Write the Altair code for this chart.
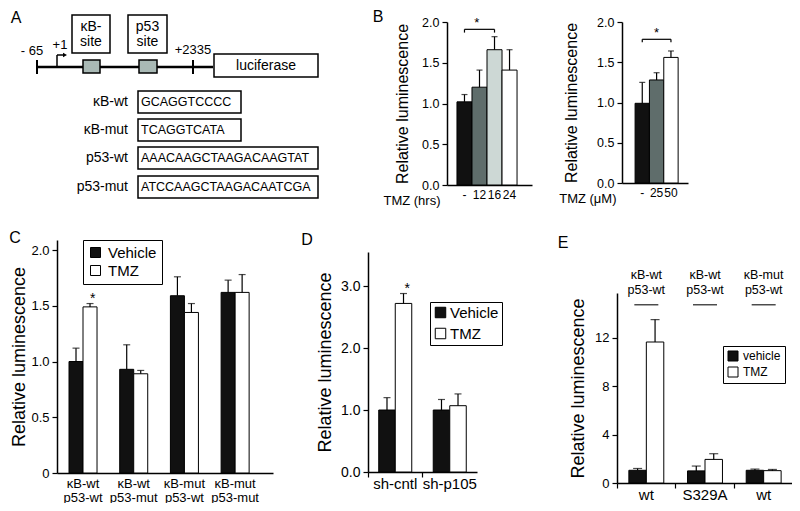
import altair as alt
import pandas as pd

M = 8            # page margin
W, H = 784, 495  # drawing area
FONT = "Liberation Sans"


def px(v):
    return v - M


# ------------------------------------------------------------------ data
# Panel B (left): TMZ time course
b1_labels = ["-", "12", "16", "24"]
b1_values = [1.02, 1.20, 1.66, 1.41]
b1_upper = [1.11, 1.41, 1.82, 1.66]
b1_fills = ["#111111", "#5f6d6b", "#cdd8d5", "#ffffff"]
b1_bracket = ("-", "16", 1.91, 1.87)

# Panel B (right): TMZ dose
b2_labels = ["-", "25", "50"]
b2_values = [0.99, 1.28, 1.56]
b2_upper = [1.25, 1.37, 1.64]
b2_fills = ["#111111", "#5f6d6b", "#ffffff"]
b2_bracket = ("-", "50", 1.785, 1.75)

# Panel C
series_cd = ["Vehicle", "TMZ"]
c_groups = ["κB-wt|p53-wt", "κB-wt|p53-mut", "κB-mut|p53-wt", "κB-mut|p53-mut"]
c_vehicle = [1.00, 0.93, 1.59, 1.62]
c_vehicle_up = [1.12, 1.15, 1.76, 1.73]
c_tmz = [1.49, 0.89, 1.44, 1.62]
c_tmz_up = [1.52, 0.92, 1.52, 1.78]
c_star = ("κB-wt|p53-wt", "TMZ", 1.52)

# Panel D
d_groups = ["sh-cntl", "sh-p105"]
d_vehicle = [1.00, 1.00]
d_vehicle_up = [1.20, 1.17]
d_tmz = [2.72, 1.07]
d_tmz_up = [2.88, 1.26]
d_star = ("sh-cntl", "TMZ", 2.88)

# Panel E
series_e = ["vehicle", "TMZ"]
e_groups = ["wt#1", "S329A#2", "wt#3"]
e_top_line1 = ["κB-wt", "κB-wt", "κB-mut"]
e_top_line2 = ["p53-wt", "p53-wt", "p53-wt"]
e_vehicle = [1.05, 1.00, 1.05]
e_vehicle_up = [1.20, 1.40, 1.15]
e_tmz = [11.65, 1.95, 1.02]
e_tmz_up = [13.50, 2.42, 1.12]

# Panel A (schematic, in diagram units)
seq_names = ["κB-wt", "κB-mut", "p53-wt", "p53-mut"]
seq_texts = ["GCAGGTCCCC", "TCAGGTCATA", "AAACAAGCTAAGACAAGTAT", "ATCCAAGCTAAGACAATCGA"]
seq_rows = [102, 130, 158, 187]
seq_box_right = [241, 241, 318, 318]
site_line1 = ["κB-", "p53"]
site_line2 = ["site", "site"]
site_left = [72, 128]
site_right = [110, 167]
site_core_left = [83, 139]
site_core_right = [100, 157]
coord_labels = ["- 65", "+1", "+2335"]
coord_x = [32, 60, 193]

layers = []

# ------------------------------------------------------------------ Panel A
dx = alt.Scale(domain=[0, 320], range=[px(0), px(320)], nice=False, zero=False)
dy = alt.Scale(domain=[0, 200], range=[px(0), px(200)], nice=False, zero=False)


def dX(f):
    return alt.X(f, scale=dx, axis=None)


def dY(f):
    return alt.Y(f, scale=dy, axis=None)


seg = pd.DataFrame({
    "x": [37, 37, 193, 57, 57],
    "x2": [213, 37, 193, 57, 63],
    "y": [67, 60, 60, 67, 55],
    "y2": [67, 74, 74, 55, 55],
    "w": [2.5, 2, 2, 1.5, 1.5],
})
layers.append(alt.Chart(seg).mark_rule(color="black").encode(
    x=dX("x:Q"), x2="x2:Q", y=dY("y:Q"), y2="y2:Q",
    strokeWidth=alt.StrokeWidth("w:Q", scale=None)))
layers.append(alt.Chart(pd.DataFrame({"x": [65], "y": [55]})).mark_point(
    shape="triangle-right", size=22, filled=True, color="black", opacity=1).encode(
    x=dX("x:Q"), y=dY("y:Q")))

boxes = pd.DataFrame({
    "x": site_left + site_core_left + [214] + [138] * 4,
    "x2": site_right + site_core_right + [318] + seq_box_right,
    "y": [15, 15, 60, 60, 54] + [r - 11 for r in seq_rows],
    "y2": [53, 53, 73, 73, 77] + [r + 11 for r in seq_rows],
    "fill": ["#ffffff", "#ffffff", "#a9b9b5", "#a9b9b5", "#ffffff"] + ["#ffffff"] * 4,
})
layers.append(alt.Chart(boxes).mark_rect(stroke="black", strokeWidth=1.5).encode(
    x=dX("x:Q"), x2="x2:Q", y=dY("y:Q"), y2="y2:Q", fill=alt.Fill("fill:N", scale=None)))

site_mid = [(a + b) / 2 for a, b in zip(site_left, site_right)]
site_txt = pd.DataFrame({"x": site_mid * 2, "y": [27, 27, 42, 42], "t": site_line1 + site_line2})
layers.append(alt.Chart(site_txt).mark_text(font=FONT, fontSize=14, baseline="middle", color="black").encode(
    x=dX("x:Q"), y=dY("y:Q"), text="t:N"))
coord_txt = pd.DataFrame({"x": coord_x, "y": [51, 45, 50], "t": coord_labels})
layers.append(alt.Chart(coord_txt).mark_text(font=FONT, fontSize=13, baseline="middle", color="black").encode(
    x=dX("x:Q"), y=dY("y:Q"), text="t:N"))
layers.append(alt.Chart(pd.DataFrame({"x": [266], "y": [66], "t": ["luciferase"]})).mark_text(
    font=FONT, fontSize=14, baseline="middle", color="black").encode(x=dX("x:Q"), y=dY("y:Q"), text="t:N"))
names_df = pd.DataFrame({"x": [128] * 4, "y": seq_rows, "t": seq_names})
layers.append(alt.Chart(names_df).mark_text(font=FONT, fontSize=14, align="right", baseline="middle",
                                            color="black").encode(
    x=dX("x:Q"), y=dY("y:Q"), text="t:N"))
seq_df = pd.DataFrame({"x": [141] * 4, "y": seq_rows, "t": seq_texts})
layers.append(alt.Chart(seq_df).mark_text(font=FONT, fontSize=12.5, align="left", baseline="middle",
                                          color="black").encode(
    x=dX("x:Q"), y=dY("y:Q"), text="t:N"))


# ------------------------------------------------------------------ simple bar panels (B)
def simple_panel(labels, values, upper, fills, xr, po, align, yr, ydom, yvals,
                 xtitle, xtitle_x, tpad, cap, bracket, star_x):
    df = pd.DataFrame({"cat": labels, "val": values, "up": upper, "fill": fills})
    xs = alt.Scale(domain=labels, range=[px(xr[0]), px(xr[1])], paddingInner=0,
                   paddingOuter=po, align=align)
    ys = alt.Scale(domain=ydom, range=[px(yr[0]), px(yr[1])], nice=False, zero=False)
    xaxis = alt.Axis(orient="bottom", offset=px(yr[0]) - H, ticks=False, labelAngle=0,
                     labelFontSize=12, labelPadding=4, labelOverlap=False,
                     title=xtitle, titleX=px(xtitle_x), titleY=15, titleAlign="right",
                     titleBaseline="middle", titleFontSize=13)
    yaxis = alt.Axis(orient="left", offset=-px(xr[0]), values=yvals, format=".1f",
                     title="Relative luminescence", titleFontSize=16, titlePadding=tpad,
                     labelFontSize=12.5)
    base = alt.Chart(df)
    out = [
        base.mark_bar(stroke="black", strokeWidth=1).encode(
            x=alt.X("cat:N", scale=xs, axis=xaxis),
            y=alt.Y("val:Q", scale=ys, axis=yaxis, stack=None),
            fill=alt.Fill("fill:N", scale=None)),
        base.mark_rule(color="black", strokeWidth=1.2).encode(
            x=alt.X("cat:N", scale=xs, axis=None),
            y=alt.Y("val:Q", scale=ys, axis=None), y2="up:Q"),
        base.mark_tick(color="black", thickness=1.2, size=cap, orient="horizontal").encode(
            x=alt.X("cat:N", scale=xs, axis=None),
            y=alt.Y("up:Q", scale=ys, axis=None)),
    ]
    a, b, yb, ye = bracket
    out.append(alt.Chart(pd.DataFrame({"a": [a], "b": [b], "y": [yb]})).mark_rule(
        color="black", strokeWidth=1.2).encode(
        x=alt.X("a:N", scale=xs, axis=None), x2="b:N", y=alt.Y("y:Q", scale=ys, axis=None)))
    out.append(alt.Chart(pd.DataFrame({"a": [a, b], "y": [ye, ye], "y2": [yb, yb]})).mark_rule(
        color="black", strokeWidth=1.2).encode(
        x=alt.X("a:N", scale=xs, axis=None), y=alt.Y("y:Q", scale=ys, axis=None), y2="y2:Q"))
    out.append(alt.Chart(pd.DataFrame({"a": [star_x], "y": [yb], "t": ["*"]})).mark_text(
        font=FONT, fontSize=13, baseline="alphabetic", dy=-2, color="black").encode(
        x=alt.X("a:N", scale=xs, axis=None), y=alt.Y("y:Q", scale=ys, axis=None), text="t:N"))
    return out


layers += simple_panel(b1_labels, b1_values, b1_upper, b1_fills, (447, 532), 0.83, 0.4,
                       (185, 22), [0, 2], [0, 0.5, 1, 1.5, 2], "TMZ (hrs)", 440, 11, 6,
                       b1_bracket, "12")
layers += simple_panel(b2_labels, b2_values, b2_upper, b2_fills, (622, 688), 0.8, 0.57,
                       (183, 22), [0, 2], [0, 0.5, 1, 1.5, 2], "TMZ (μM)", 616, 17, 6,
                       b2_bracket, "25")


# ------------------------------------------------------------------ grouped panels (C, D, E)
def grouped_panel(groups, series, veh, veh_up, tmz, tmz_up, xr, po, align, xo_po, yr, ydom,
                  yvals, ylabel_expr, tpad, ylab_size, xlab_expr, xlab_size, legend, cap,
                  sep_ticks, star=None):
    n = len(groups)
    df = pd.DataFrame({"grp": groups * 2, "ser": [series[0]] * n + [series[1]] * n,
                       "val": veh + tmz, "up": veh_up + tmz_up})
    xs = alt.Scale(domain=groups, range=[px(xr[0]), px(xr[1])], paddingInner=0,
                   paddingOuter=po, align=align)
    xos = alt.Scale(domain=series, paddingInner=0, paddingOuter=xo_po)
    ys = alt.Scale(domain=ydom, range=[px(yr[0]), px(yr[1])], nice=False, zero=False)
    xaxis = alt.Axis(orient="bottom", offset=px(yr[0]) - H, ticks=False, labelAngle=0,
                     labelFontSize=xlab_size, labelPadding=4, labelOverlap=False,
                     labelExpr=xlab_expr, labelLineHeight=14, labelBaseline="top", title=None)
    yaxis = alt.Axis(orient="left", offset=-px(xr[0]), values=yvals, labelExpr=ylabel_expr,
                     title="Relative luminescence", titleFontSize=18, titlePadding=tpad,
                     labelFontSize=ylab_size)
    base = alt.Chart(df)
    X = lambda ax=None: alt.X("grp:N", scale=xs, axis=ax)
    XO = alt.XOffset("ser:N", scale=xos)
    out = [
        base.mark_bar(stroke="black", strokeWidth=1).encode(
            x=X(xaxis), xOffset=XO,
            y=alt.Y("val:Q", scale=ys, axis=yaxis, stack=None),
            fill=alt.Fill("ser:N", scale=alt.Scale(domain=series, range=["#111111", "#ffffff"]),
                          legend=legend)),
    ]
    if sep_ticks:
        tax = alt.Axis(orient="bottom", offset=px(yr[0]) - H, bandPosition=0, labels=False,
                       domain=False, ticks=True, tickSize=5, title=None)
    else:
        tax = None
    out.append(base.mark_rule(color="black", strokeWidth=1.2).encode(
        x=X(tax), xOffset=XO, y=alt.Y("val:Q", scale=ys, axis=None), y2="up:Q"))
    out.append(base.mark_tick(color="black", thickness=1.2, size=cap, orient="horizontal").encode(
        x=X(), xOffset=XO, y=alt.Y("up:Q", scale=ys, axis=None)))
    if star is not None:
        g, s, yv = star
        out.append(alt.Chart(pd.DataFrame({"grp": [g], "ser": [s], "y": [yv], "t": ["*"]})).mark_text(
            font=FONT, fontSize=14, baseline="alphabetic", dy=-1, color="black").encode(
            x=X(), xOffset=XO, y=alt.Y("y:Q", scale=ys, axis=None), text="t:N"))
    return out, xs, ys


def legend_box(x, y, size, sym, pad, lab_off, row_pad):
    return alt.Legend(title=None, orient="none", legendX=px(x), legendY=px(y), direction="vertical",
                      symbolType="square", symbolSize=sym, symbolStrokeColor="black",
                      symbolStrokeWidth=1, labelFont=FONT, labelFontSize=size, labelColor="black",
                      strokeColor="black", fillColor="white", padding=pad, labelOffset=lab_off,
                      rowPadding=row_pad)


zero_fmt = "datum.value == 0 ? '0' : format(datum.value, '.1f')"
c_layers, _, _ = grouped_panel(
    c_groups, series_cd, c_vehicle, c_vehicle_up, c_tmz, c_tmz_up,
    (57, 273), 0.13, 0.05, 0.81, (473, 240), [0, 2.09], [0, 0.5, 1, 1.5, 2], zero_fmt, 2, 13,
    "split(datum.value, '|')", 13, legend_box(83, 240, 15, 100, 5, 5, 2), 7, False, c_star)
layers += c_layers

d_layers, _, _ = grouped_panel(
    d_groups, series_cd, d_vehicle, d_vehicle_up, d_tmz, d_tmz_up,
    (368, 477), 0, 0.5, 0.65, (472, 252), [0, 3.55], [0, 1, 2, 3], "format(datum.value, '.1f')",
    6, 14, "datum.value", 15, legend_box(430, 302, 15, 110, 3, 2, 5), 7, True, d_star)
layers += d_layers

e_layers, e_xs, e_ys = grouped_panel(
    e_groups, series_e, e_vehicle, e_vehicle_up, e_tmz, e_tmz_up,
    (617, 793), 0, 0.5, 0.68, (483, 293), [0, 15.7], [0, 4, 8, 12], "format(datum.value, 'd')",
    7, 13, "split(datum.value, '#')[0]", 15, legend_box(723, 346, 12, 100, 4, 4, 2), 9, True)
layers += e_layers

etop = pd.DataFrame({"grp": e_groups * 2, "t": e_top_line1 + e_top_line2,
                     "y": [17.15] * 3 + [15.95] * 3})
layers.append(alt.Chart(etop).mark_text(font=FONT, fontSize=12.5, baseline="middle", color="black").encode(
    x=alt.X("grp:N", scale=e_xs, axis=None), y=alt.Y("y:Q", scale=e_ys, axis=None), text="t:N"))
eline = pd.DataFrame({"grp": e_groups, "y": [14.73] * 3})
layers.append(alt.Chart(eline).mark_tick(color="black", thickness=1.5, size=24, orient="horizontal").encode(
    x=alt.X("grp:N", scale=e_xs, axis=None), y=alt.Y("y:Q", scale=e_ys, axis=None)))

# ------------------------------------------------------------------ panel letters
panel_letters = ["A", "B", "C", "D", "E"]
letter_pos = [(16, 18), (378, 17), (15, 238), (307, 240), (563, 243)]
for letter, (lx, ly) in zip(panel_letters, letter_pos):
    layers.append(alt.Chart(pd.DataFrame({"t": [letter]})).mark_text(
        font=FONT, fontSize=16, baseline="middle", color="black").encode(
        text="t:N", x=alt.value(px(lx)), y=alt.value(px(ly))))

chart = alt.layer(*layers).properties(
    width=W, height=H, padding=0, autosize=alt.AutoSizeParams(type="none"),
).resolve_scale(
    x="independent", y="independent", xOffset="independent", fill="independent",
).resolve_axis(x="independent", y="independent").resolve_legend(fill="independent").configure_view(
    strokeWidth=0
).configure_axis(
    grid=False, domainColor="black", domainWidth=1.5, tickColor="black", tickWidth=1.2, tickSize=5,
    labelColor="black", titleColor="black", labelFont=FONT, titleFont=FONT,
    titleFontWeight="normal", labelPadding=3,
)

chart.save("out.html", embed_options={"renderer": "svg", "actions": False})
